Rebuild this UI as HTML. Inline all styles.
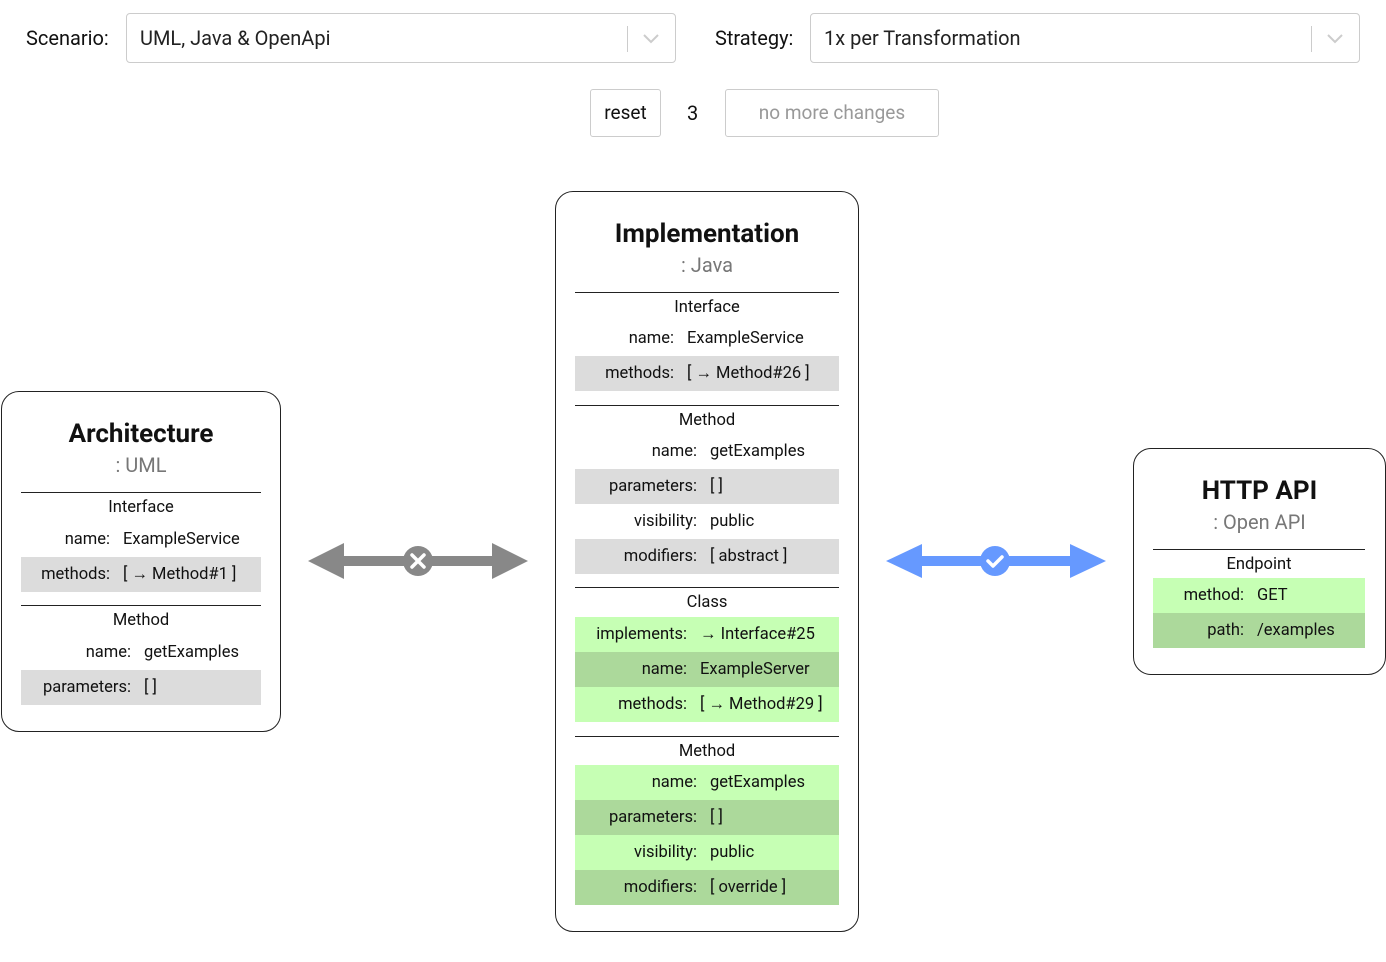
<!DOCTYPE html>
<html><head><meta charset="utf-8"><style>
body{margin:0;width:1386px;height:962px;background:#fff;font-family:"Roboto","Liberation Sans",sans-serif;color:#111;position:relative;overflow:hidden}
.a{position:absolute}
.sel{position:absolute;top:13px;height:50px;border:1px solid #ccc;border-radius:4px;box-sizing:border-box;font-size:20px;line-height:49px;padding-left:13px;color:#222}
.sel .sep{position:absolute;right:47px;top:12px;width:1px;height:26px;background:#ccc}
.sel svg{position:absolute;right:16px;top:20px}
.lbl{position:absolute;top:26px;font-size:20px;color:#111}
.btn{position:absolute;top:89px;height:48px;border:1px solid #ccc;border-radius:3px;box-sizing:border-box;font-size:19px;line-height:46px;text-align:center}
.box{position:absolute;border:1px solid #222;border-radius:18px;box-sizing:border-box}
.t{position:absolute;left:0;right:0;text-align:center;font-weight:bold;font-size:26px}
.st{position:absolute;left:0;right:0;text-align:center;font-size:20px;color:#777}
.hr{position:absolute;height:1px;background:#222}
.sec{position:absolute;text-align:center;font-size:16.5px}
.r{position:absolute;height:35px;font-size:16.5px;line-height:35px}
.r span{position:absolute;white-space:nowrap}
.r .l{right:calc(100% - var(--c))}
.r .v{left:calc(var(--c) + 13px)}
.g{background:#dcdcdc}.lg{background:#c6ffb4}.dg{background:#acd99b}
</style></head><body>
<div class="lbl" style="left:26px">Scenario:</div>
<div class="sel" style="left:126px;width:550px">UML, Java &amp; OpenApi<div class="sep"></div><svg width="16" height="10"><path d="M1 1l7 7 7-7" stroke="#ccc" stroke-width="2" fill="none"/></svg></div>
<div class="lbl" style="left:715px">Strategy:</div>
<div class="sel" style="left:810px;width:550px">1x per Transformation<div class="sep"></div><svg width="16" height="10"><path d="M1 1l7 7 7-7" stroke="#ccc" stroke-width="2" fill="none"/></svg></div>
<div class="btn" style="left:590px;width:71px">reset</div>
<div class="a" style="left:687px;top:101px;font-size:20px">3</div>
<div class="btn" style="left:725px;width:214px;color:#999">no more changes</div>

<div class="box" style="left:1px;top:391px;width:280px;height:341px">
<div class="t" style="top:27px">Architecture</div>
<div class="st" style="top:61px">: UML</div>
</div>
<div class="hr" style="left:21px;top:492px;width:240px"></div>
<div class="sec" style="left:21px;width:240px;top:498px">Interface</div>
<div class="r" style="left:21px;width:240px;top:522px;--c:89px"><span class="l">name:</span><span class="v">ExampleService</span></div>
<div class="r g" style="left:21px;width:240px;top:557px;--c:89px"><span class="l">methods:</span><span class="v">[ → Method#1 ]</span></div>
<div class="hr" style="left:21px;top:605px;width:240px"></div>
<div class="sec" style="left:21px;width:240px;top:611px">Method</div>
<div class="r" style="left:21px;width:240px;top:635px;--c:110px"><span class="l">name:</span><span class="v">getExamples</span></div>
<div class="r g" style="left:21px;width:240px;top:670px;--c:110px"><span class="l">parameters:</span><span class="v">[ ]</span></div>

<div class="box" style="left:555px;top:191px;width:304px;height:741px">
<div class="t" style="top:27px">Implementation</div>
<div class="st" style="top:61px">: Java</div>
</div>
<div class="hr" style="left:575px;top:292px;width:264px"></div>
<div class="sec" style="left:575px;width:264px;top:298px">Interface</div>
<div class="r" style="left:575px;width:264px;top:321px;--c:99px"><span class="l">name:</span><span class="v">ExampleService</span></div>
<div class="r g" style="left:575px;width:264px;top:356px;--c:99px"><span class="l">methods:</span><span class="v">[ → Method#26 ]</span></div>
<div class="hr" style="left:575px;top:405px;width:264px"></div>
<div class="sec" style="left:575px;width:264px;top:411px">Method</div>
<div class="r" style="left:575px;width:264px;top:434px;--c:122px"><span class="l">name:</span><span class="v">getExamples</span></div>
<div class="r g" style="left:575px;width:264px;top:469px;--c:122px"><span class="l">parameters:</span><span class="v">[ ]</span></div>
<div class="r" style="left:575px;width:264px;top:504px;--c:122px"><span class="l">visibility:</span><span class="v">public</span></div>
<div class="r g" style="left:575px;width:264px;top:539px;--c:122px"><span class="l">modifiers:</span><span class="v">[ abstract ]</span></div>
<div class="hr" style="left:575px;top:587px;width:264px"></div>
<div class="sec" style="left:575px;width:264px;top:593px">Class</div>
<div class="r lg" style="left:575px;width:264px;top:617px;--c:112px"><span class="l">implements:</span><span class="v">→ Interface#25</span></div>
<div class="r dg" style="left:575px;width:264px;top:652px;--c:112px"><span class="l">name:</span><span class="v">ExampleServer</span></div>
<div class="r lg" style="left:575px;width:264px;top:687px;--c:112px"><span class="l">methods:</span><span class="v">[ → Method#29 ]</span></div>
<div class="hr" style="left:575px;top:736px;width:264px"></div>
<div class="sec" style="left:575px;width:264px;top:742px">Method</div>
<div class="r lg" style="left:575px;width:264px;top:765px;--c:122px"><span class="l">name:</span><span class="v">getExamples</span></div>
<div class="r dg" style="left:575px;width:264px;top:800px;--c:122px"><span class="l">parameters:</span><span class="v">[ ]</span></div>
<div class="r lg" style="left:575px;width:264px;top:835px;--c:122px"><span class="l">visibility:</span><span class="v">public</span></div>
<div class="r dg" style="left:575px;width:264px;top:870px;--c:122px"><span class="l">modifiers:</span><span class="v">[ override ]</span></div>

<div class="box" style="left:1133px;top:448px;width:253px;height:227px">
<div class="t" style="top:27px">HTTP API</div>
<div class="st" style="top:61px">: Open API</div>
</div>
<div class="hr" style="left:1153px;top:549px;width:212px"></div>
<div class="sec" style="left:1153px;width:212px;top:555px">Endpoint</div>
<div class="r lg" style="left:1153px;width:212px;top:578px;--c:91px"><span class="l">method:</span><span class="v">GET</span></div>
<div class="r dg" style="left:1153px;width:212px;top:613px;--c:91px"><span class="l">path:</span><span class="v">/examples</span></div>

<svg class="a" style="left:0;top:0" width="1386" height="962">
<g fill="#888">
<polygon points="308,561 344,543 344,579"/>
<polygon points="528,561 492,543 492,579"/>
<rect x="343" y="556" width="150" height="10"/>
<circle cx="418" cy="561" r="15"/>
</g>
<path d="M412 555l12 12M424 555l-12 12" stroke="#fff" stroke-width="3.5" stroke-linecap="round"/>
<g fill="#6699ff">
<polygon points="886,561 922,544 922,578"/>
<polygon points="1106,561 1070,544 1070,578"/>
<rect x="921" y="556" width="150" height="10"/>
<circle cx="995" cy="561" r="15"/>
</g>
<path d="M988 561l5 5 9-9" stroke="#fff" stroke-width="3.5" fill="none" stroke-linecap="round" stroke-linejoin="round"/>
</svg>
</body></html>
